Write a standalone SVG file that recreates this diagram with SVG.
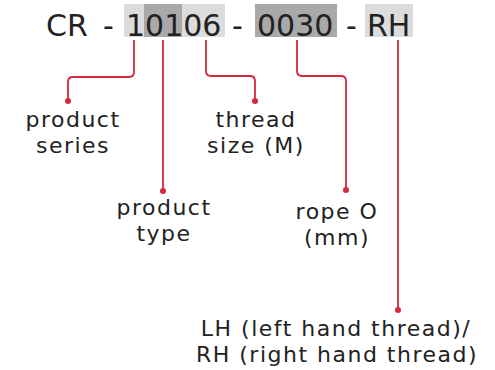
<svg xmlns="http://www.w3.org/2000/svg" width="495" height="370" viewBox="0 0 495 370">
<style>
.hd{font-family:"DejaVu Sans",sans-serif;font-size:30px;fill:#222}
.lb{font-family:"DejaVu Sans",sans-serif;font-size:22px;letter-spacing:1.5px;fill:#222;text-anchor:middle}
.ln{fill:none;stroke:#d4283f;stroke-width:1.8}
.dot{fill:#d4283f}
.light{fill:#dcdcdc}
.dark{fill:#a9a9a9}
</style>
<rect width="495" height="370" fill="#fff"/>
<g id="code">
<rect class="light" x="124" y="4" width="101" height="33"/>
<rect class="dark" x="144" y="4" width="38" height="33"/>
<rect class="dark" x="255" y="4" width="82" height="33"/>
<rect class="light" x="365" y="4" width="48" height="33"/>
<text class="hd" x="46" y="36">CR</text>
<text class="hd" x="103" y="36">-</text>
<text class="hd" x="126" y="36">10106</text>
<text class="hd" x="232" y="36">-</text>
<text class="hd" x="257" y="36">0030</text>
<text class="hd" x="346" y="36">-</text>
<text class="hd" x="367" y="36">RH</text>
</g>
<g id="connectors">
<path class="ln" d="M134,40 V72 Q134,77 129,77 H73 Q68,77 68,82 V101"/>
<circle class="dot" cx="68" cy="101" r="3"/>
<path class="ln" d="M163,40 V191"/>
<circle class="dot" cx="163" cy="191" r="3"/>
<path class="ln" d="M206,40 V71 Q206,76 211,76 H250 Q255,76 255,81 V101"/>
<circle class="dot" cx="255" cy="101" r="3"/>
<path class="ln" d="M297,40 V71 Q297,76 302,76 H341 Q346,76 346,81 V190"/>
<circle class="dot" cx="346" cy="190" r="3"/>
<path class="ln" d="M398,40 V310"/>
<circle class="dot" cx="398" cy="310" r="3"/>
</g>
<g id="product-series">
<text class="lb" x="73" y="127">product</text>
<text class="lb" x="73" y="153">series</text>
</g>
<g id="product-type">
<text class="lb" x="164" y="215">product</text>
<text class="lb" x="164" y="241">type</text>
</g>
<g id="thread-size">
<text class="lb" x="256" y="127">thread</text>
<text class="lb" x="256" y="153">size (M)</text>
</g>
<g id="rope">
<text class="lb" x="337" y="219">rope O</text>
<text class="lb" x="337" y="245">(mm)</text>
</g>
<g id="hand">
<text class="lb" x="336" y="336">LH (left hand thread)/</text>
<text class="lb" x="337" y="362">RH (right hand thread)</text>
</g>
</svg>
